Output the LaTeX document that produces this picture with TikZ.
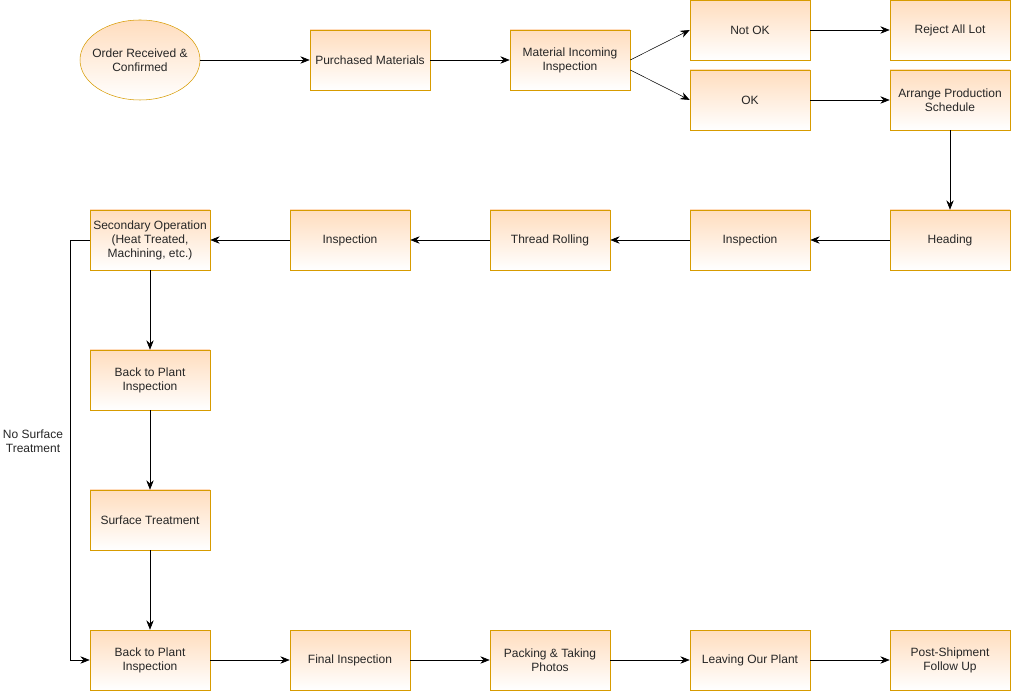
\documentclass[tikz,border=0pt]{standalone}
\usepackage{fontspec}
\setmainfont{Liberation Sans}
\usetikzlibrary{arrows.meta,shapes.geometric}

\definecolor{boxtop}{HTML}{FFDDBE}
\definecolor{boxline}{HTML}{D79B00}

\begin{document}
\begin{tikzpicture}[x=0.75pt, y=-0.75pt,
    font=\fontsize{9}{10.5}\selectfont,
    >={Stealth[length=7pt,width=5.5pt]},
    stepbox/.style={draw=boxline, top color=boxtop, bottom color=white,
      text=black!85, minimum width=90pt, minimum height=45pt,
      inner sep=0pt, align=center},
    startnode/.style={stepbox, ellipse, inner xsep=-10pt, minimum height=60pt}]

  \useasboundingbox (0,0) rectangle (1011,691);

  \node[startnode] (order) at (140,60) {Order Received \&\\Confirmed};
  \node[stepbox] (purch)   at (370,60)  {Purchased Materials};
  \node[stepbox] (incom)   at (570,60)  {Material Incoming\\Inspection};
  \node[stepbox] (notok)   at (750,30)  {Not OK};
  \node[stepbox] (reject)  at (950,30)  {Reject All Lot};
  \node[stepbox] (ok)      at (750,100) {OK};
  \node[stepbox] (arrange) at (950,100) {Arrange Production\\Schedule};

  \node[stepbox] (heading) at (950,240) {Heading};
  \node[stepbox] (insp1)   at (750,240) {Inspection};
  \node[stepbox] (thread)  at (550,240) {Thread Rolling};
  \node[stepbox] (insp2)   at (350,240) {Inspection};
  \node[stepbox] (second)  at (150,240) {Secondary Operation\\(Heat Treated,\\Machining, etc.)};

  \node[stepbox] (back1)   at (150,380) {Back to Plant\\Inspection};
  \node[stepbox] (surface) at (150,520) {Surface Treatment};
  \node[stepbox] (back2)   at (150,660) {Back to Plant\\Inspection};
  \node[stepbox] (final)   at (350,660) {Final Inspection};
  \node[stepbox] (packing) at (550,660) {Packing \& Taking\\Photos};
  \node[stepbox] (leaving) at (750,660) {Leaving Our Plant};
  \node[stepbox] (follow)  at (950,660) {Post-Shipment\\Follow Up};

  \coordinate (bypass) at (70,240);
  \node[align=center, text=black!85] (nosurf) at (33,441) {No Surface\\Treatment};

  % Arrows
  \draw[->]  (order) -- (purch);
  \draw[->]  (purch) -- (incom);
  \draw[->]  (incom.east) -- (notok.west);
  \draw[->]  ([yshift=-7.5pt]incom.east) -- (ok.west);
  \draw[->]  (notok) -- (reject);
  \draw[->]  (ok) -- (arrange);
  \draw[->]  (arrange) -- (heading);
  \draw[->]  (heading) -- (insp1);
  \draw[->]  (insp1) -- (thread);
  \draw[->]  (thread) -- (insp2);
  \draw[->]  (insp2) -- (second);
  \draw[->]  (second) -- (back1);
  \draw[->]  (back1) -- (surface);
  \draw[->]  (surface) -- (back2);
  \draw[->]  (second.west) -- (bypass) |- (back2.west);
  \draw[->]  (back2) -- (final);
  \draw[->]  (final) -- (packing);
  \draw[->]  (packing) -- (leaving);
  \draw[->]  (leaving) -- (follow);

\end{tikzpicture}
\end{document}
